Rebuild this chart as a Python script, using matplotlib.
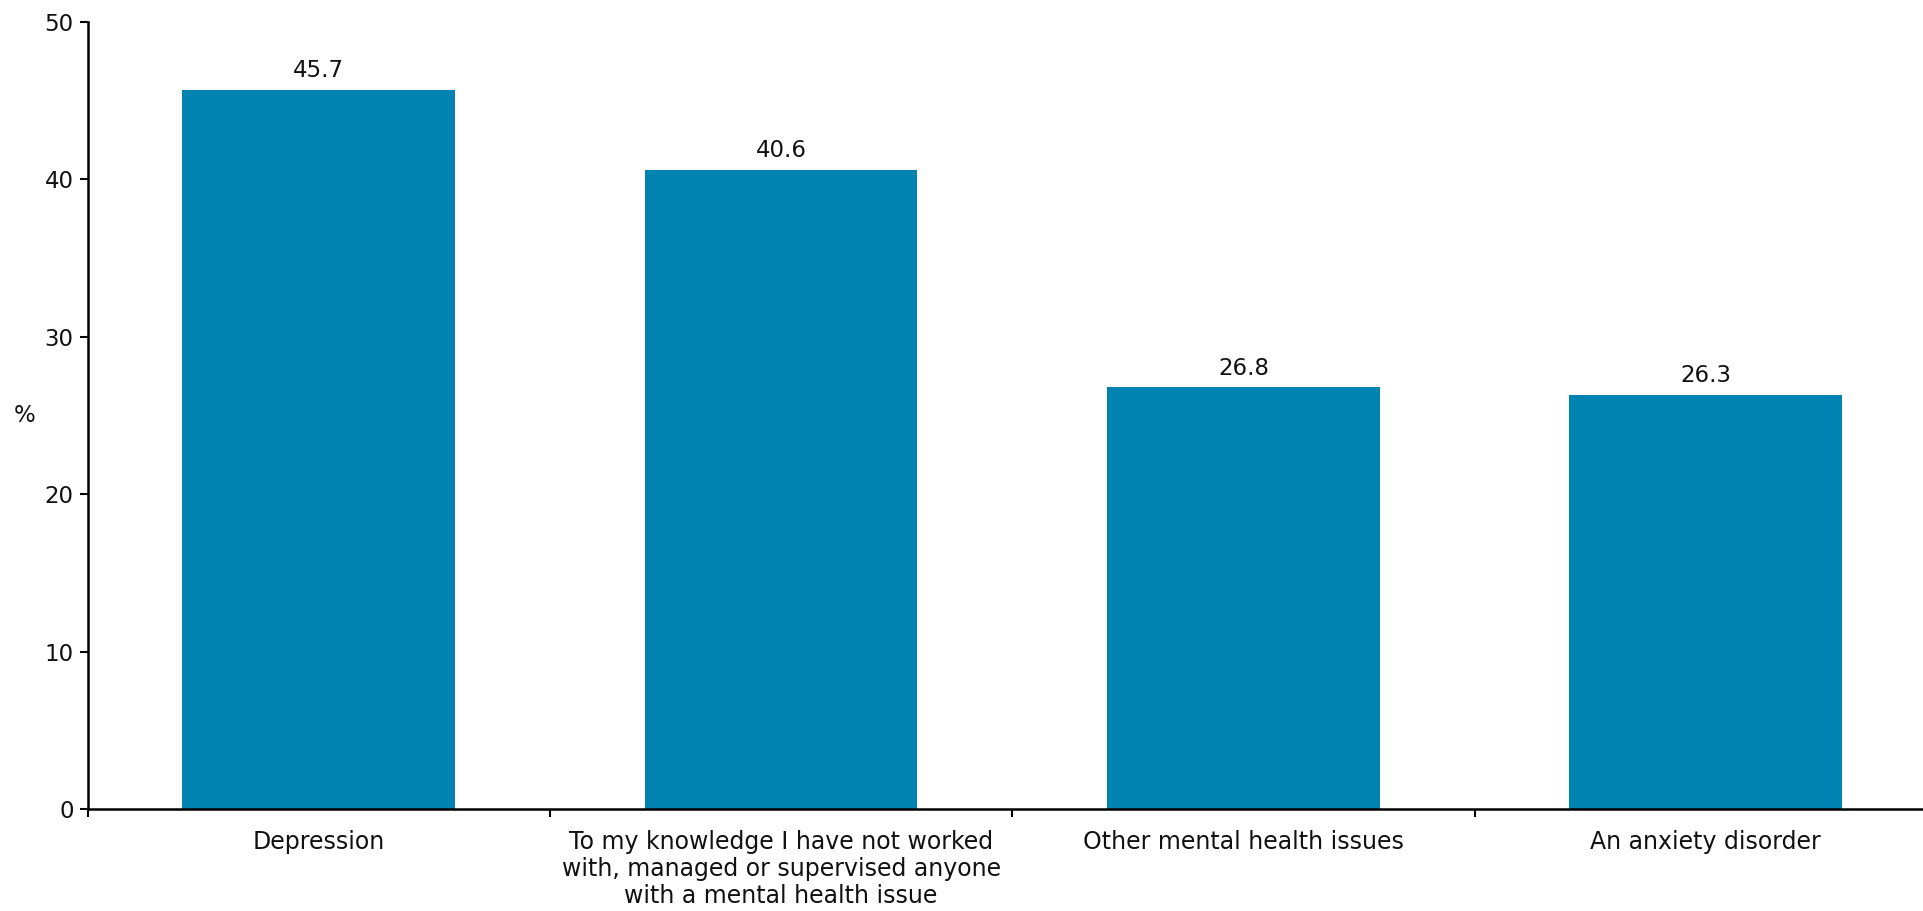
import numpy as np
import matplotlib.pyplot as plt

# survey responses, share of respondents
categories = [
    "Depression",
    "To my knowledge I have not worked\nwith, managed or supervised anyone\nwith a mental health issue",
    "Other mental health issues",
    "An anxiety disorder",
]
values = [45.7, 40.6, 26.8, 26.3]
y_ticks = [0, 10, 20, 30, 40, 50]

BAR_COLOR = '#0083B1'

plt.rcParams['font.family'] = ['DejaVu Sans']

fig = plt.figure(figsize=(19.24, 9.11), dpi=100)
# axis runs a little past the right edge of the figure
ax = fig.add_axes([87.5 / 1924, 1 - 809 / 911, (1937 - 87.5) / 1924, (809 - 22) / 911])

x = np.arange(len(categories))
bars = ax.bar(x, values, width=0.59, color=BAR_COLOR)

for b, v in zip(bars, values):
    ax.annotate(f"{v:.1f}", (b.get_x() + b.get_width() / 2, v),
                xytext=(0, 5.5), textcoords='offset points',
                ha='center', va='bottom', fontsize=16.5, color='#111111')

ax.set_xlim(-0.5, len(categories) - 0.5)
ax.set_ylim(0, 50)
ax.set_yticks(y_ticks)

# labels sit under the bars, ticks mark the category boundaries
ax.set_xticks(x)
ax.set_xticklabels(categories, fontsize=17, color='#111111', linespacing=1.16)
ax.tick_params(axis='x', which='major', length=0, pad=15)
ax.set_xticks(np.arange(len(categories) + 1) - 0.5, minor=True)
ax.tick_params(axis='x', which='minor', length=6, width=1.5, direction='out')
ax.tick_params(axis='y', length=6, width=1.5, labelsize=16.5, labelcolor='#111111', pad=4)

for side in ['top', 'right']:
    ax.spines[side].set_visible(False)
for side in ['left', 'bottom']:
    ax.spines[side].set_linewidth(1.8)

fig.text(25 / 1924, 1 - 415 / 911, '%', fontsize=16.5, ha='center', va='center', color='#111111')

fig.savefig('out.png', dpi=100)
